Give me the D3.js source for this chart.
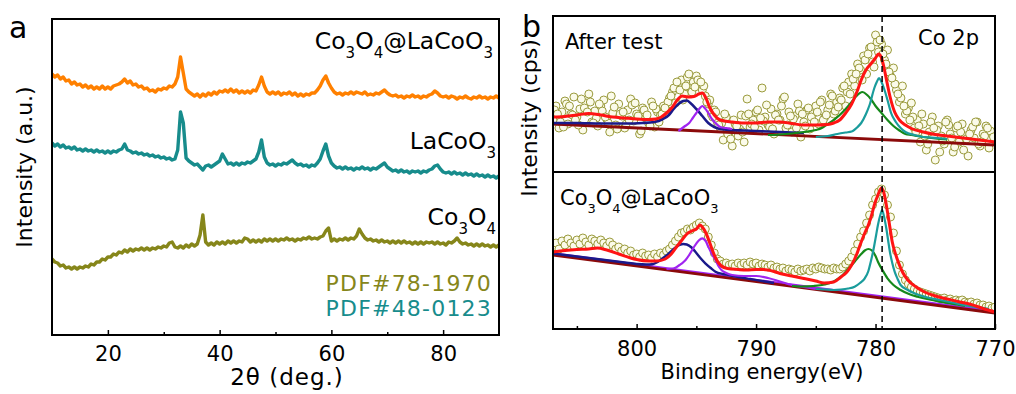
<!DOCTYPE html>
<html><head><meta charset="utf-8">
<script src="https://cdn.jsdelivr.net/npm/d3@7"></script>
<style>body{margin:0;background:#fff}svg{display:block;font-family:"DejaVu Sans",Verdana,sans-serif}</style>
</head><body><svg id="c" width="1016" height="394"></svg>
<script>
// ---------- Panel a : XRD (2θ grid 10..90 step 0.5) ----------
const xrdStart = 10, xrdStep = 0.5;
const xrdTicks = [20, 40, 60, 80];
const xrdMinorTicks = [30, 50, 70];
const xrdCoLa = [261,258,260,256,258,254,255,251,253,250,251,248,250,247,249,246,248,246,249,246,248,246,249,250,251,253,256,252,254,250,251,248,249,246,247,244,245,243,246,245,247,246,249,248,251,258,278,262,246,243,241,239,241,238,241,239,242,240,243,241,244,243,245,243,246,243,245,242,244,242,244,242,245,244,250,258,249,243,241,243,241,243,240,242,241,243,240,242,239,241,239,241,240,242,242,245,249,255,259,252,247,243,241,242,240,242,241,243,241,243,242,241,243,240,241,240,242,241,243,245,242,240,239,240,238,239,237,239,238,240,238,239,237,239,238,240,241,244,242,239,238,239,237,239,238,236,238,237,239,237,236,238,237,239,237,238,236,238,237,239,237];
const xrdLa = [192,189,191,188,190,187,188,186,188,185,186,184,186,184,185,183,185,183,184,182,184,182,184,183,185,186,191,185,184,182,183,181,182,180,181,179,180,178,179,177,178,176,177,175,176,185,223,212,177,174,172,170,171,168,165,169,170,168,170,172,174,181,176,171,172,170,172,170,172,171,173,172,174,176,183,195,178,172,170,171,169,171,170,172,171,173,175,172,170,171,169,170,168,170,169,172,176,184,191,179,172,169,167,168,166,168,166,167,165,167,166,168,166,167,165,167,166,168,170,172,168,166,164,165,163,165,163,164,162,164,163,164,162,164,163,165,166,169,170,166,163,162,163,161,163,161,162,160,162,160,161,159,161,159,160,158,160,158,159,157,159];
const xrdCo = [76,73,72,69,70,67,68,66,68,66,68,67,69,68,71,70,73,73,76,75,78,78,81,80,83,82,85,83,86,84,86,85,87,85,87,85,87,86,88,87,89,88,92,93,88,87,89,87,90,88,91,89,91,100,120,93,90,92,90,93,91,93,91,94,92,94,92,94,93,97,96,93,95,93,95,93,96,94,96,94,96,94,96,95,97,95,96,94,96,95,97,96,98,96,97,96,98,99,104,107,94,96,94,96,95,97,95,97,96,99,106,101,97,95,96,94,95,93,95,93,94,92,94,92,94,92,94,92,93,91,93,91,93,91,93,92,93,91,93,91,92,90,93,92,94,97,93,91,92,90,91,89,91,89,91,89,90,88,90,88,90];

// ---------- Panel b : XPS Co 2p ----------
const xpsTicks = [800, 790, 780, 770];
const xpsMinorTicks = [805, 795, 785, 775];
const xpsRefLine = 779.45;
// measured points (value lists on regular energy grids, see drawPanel calls)
const topPts = [52,66,44,60,71,48,58,75,55,63,42,69,78,50,61,46,66,72,53,40,59,47,68,56,44,62,73,51,58,38,64,54,49,70,45,60,57,66,62,74,80,69,88,92,78,95,84,90,96,88,82,76,68,58,62,50,44,32,55,40,26,48,36,57,30,73,45,52,60,42,84,55,47,63,38,58,52,73,44,60,40,56,68,35,50,62,43,58,66,48,72,55,62,78,58,70,74,84,66,90,98,86,108,102,116,98,124,110,137,120,128,112,122,96,104,82,70,86,58,64,69,44,52,30,48,22,40,55,12,46,36,28,52,38,20,44,30,48,36,16,42,34,50,26,38,46,24,40,32];
const topPts2 = [62,50,68,57,47,64,70,54,61,49,65,58,48,67,56,62,46,63,58,70,84,82,86,80,92,86,72,60,49,38,52,43,56,48,62,51,45,57,66,47,53,61,46,55,60,52,67,61,72,80,93,104,112,125,130,118,100,88,74,61,55,46,36,50,42,31,47,25,40,33,45,28,36,41];
const topPts3 = [58,45,66,52,73,60,49,68,55,76,43,60,52,69,41,57,66,50,64,76,90,72,98,85,90,70,55,47,58,33,46,40,58,45,54,67,43,52,75,56,44,58,64,50,70,57,76,65,86,78,98,92,118,105,132,108,94,78,66,52,40,58,28,44,20,50,34,46,22,38,50,30,44,35];
const botPts = [82,86,80,88,84,90,86,83,89,85,91,87,84,90,88,85,89,86,83,87,84,80,82,78,80,76,78,74,75,72,76,73,74,71,75,72,76,74,78,80,84,88,92,96,97,100,99,102,104,106,103,100,92,84,76,70,68,65,66,64,65,63,66,64,66,64,67,65,66,63,65,64,62,64,61,62,60,61,58,60,59,57,60,58,59,60,58,61,60,62,61,60,60,59,61,60,60,62,65,68,72,78,85,92,98,106,114,124,130,137,140,134,124,112,96,78,64,55,49,45,42,40,38,37,36,35,34,33,32,31,30,31,29,30,28,29,28,29,27,26,27,25,26,24,24,22,23,21,22];

const topBase = [[807,48],[770,27]];
const topEnv = [[807,55],[806,55.5],[805,57],[804,58.5],[803,57],[802,55],[801,54],[800,53],[799,52.5],[798.4,53],[798,54.5],[797.5,59],[797,65],[796.6,72],[796.2,76],[795.7,75],[795.2,75.5],[794.8,78],[794.5,79],[794.2,74],[793.9,65],[793.5,57],[793,52],[792,50],[791,49],[790,49],[789,50],[788,50],[787,48.5],[786,47],[785,47],[784,47.5],[783.5,49],[783,52],[782.5,59],[782,68],[781.5,82],[781.2,92],[780.8,102],[780.4,108],[780,114],[779.75,118],[779.5,114],[779.3,105],[779.1,93],[778.8,76],[778.4,60],[778,52],[777.5,47],[777,43.5],[776,40],[775,37.5],[774,36],[773,34.5],[772,33],[771,31.5],[770,30]];
const topNavy = [[807,49],[805,49],[803,48.5],[801,48.5],[799.5,49],[798.5,50],[797.8,53],[797.3,57],[796.9,63],[796.5,68],[796.1,71],[795.8,71.5],[795.5,69],[795,63],[794.5,56],[794,49],[793.5,45],[793,43],[792,42],[791,41.5],[790,41],[789,40.5],[788,40],[787,39.5],[786,39]];
const topViolet = [[796.5,41],[796,45.5],[795.6,49],[795.3,54],[795,59],[794.7,64],[794.5,66],[794.3,64],[794,59],[793.7,53],[793.4,49],[793,45],[792.5,44],[792,43]];
const topGreen = [[789,37],[788,37.5],[787,38.5],[786,40],[785,42],[784.5,44],[784,48],[783.5,52],[783,57],[782.5,63],[782,70],[781.6,76],[781.1,80],[780.7,77],[780.4,73],[780,66],[779.5,59],[779,52],[778.5,46],[778,41.5],[777.5,38],[777,37],[776,35],[775,33.5],[774,32.5]];
const topTeal = [[785,35],[784,36],[783.2,38],[782.5,39.5],[782,40.5],[781.5,45],[781.2,49],[780.8,58],[780.5,67],[780.1,84],[779.9,90],[779.7,94],[779.5,90],[779.25,82],[779,72],[778.7,59],[778.3,50],[777.9,44],[777.5,40],[776.75,37],[776,35],[774.8,34],[774,33]];

const botBaseViolet = [[807,75.5],[770,17.5]];
const botBase = [[807,74],[770,16]];
const botEnv = [[807,77],[806,78.5],[805,79.5],[804,80],[803.3,81],[802.5,79],[801.5,75],[800.5,71],[800,69.5],[799,68],[798.3,68],[797.6,70],[797.1,75],[796.6,83],[796.2,89],[795.8,95],[795.3,98.5],[795,100],[794.7,104],[794.5,102],[794.2,96],[793.9,87],[793.6,77],[793.3,69],[792.9,63],[792.4,60.5],[791.5,59.5],[790.8,59],[790,59.5],[789.4,59.5],[788.5,57.5],[788,55.5],[787,53],[786,50.5],[785,48],[784.3,46],[783.5,47],[782.9,52],[782.4,57],[782,64],[781.6,74],[781.2,87],[780.9,96],[780.6,104],[780.3,115],[780.1,124],[779.8,134],[779.5,141],[779.3,136],[779,117],[778.8,102],[778.6,87],[778.3,74],[778.1,67],[777.7,56],[777.3,49],[776.6,42],[775.9,37],[775,33],[774,30],[773.1,27.5],[772,24.5],[771,20.5],[770,17]];
const botNavy = [[807,75.5],[805,72.5],[803,69.5],[801,66.5],[800,65],[799.2,64.5],[798.7,64.8],[798.4,66],[797.9,70],[797.3,75.7],[796.8,81],[796.4,84],[796.1,85],[795.8,84.5],[795.4,81.5],[795.1,77.5],[794.7,71.5],[794.25,65.7],[793.8,61],[793.4,57.3],[792.8,55],[792.3,54],[791.5,52],[790.5,50],[789.5,48],[788.5,46]];
const botViolet = [[797.5,60],[797,60.5],[796.75,61.3],[796.4,64],[796.2,65.7],[795.9,69],[795.6,74],[795.2,82],[794.8,88.5],[794.5,90.7],[794.2,87.5],[794,82.3],[793.7,75],[793.4,69],[793.1,62],[792.9,59],[792.5,56],[792,54],[791,53],[790,53],[789,51],[788,47.5],[787,44],[786,42],[785,40]];
const botGreen = [[787,43],[786.2,42.5],[785.2,43],[784.25,44.5],[783.5,47.5],[782.9,52.3],[782.3,60],[781.75,67.3],[781.2,75],[780.9,78.5],[780.6,80],[780.3,78.5],[780,73],[779.8,67.3],[779.4,58.5],[779,50.7],[778.5,44],[777.9,39],[777.2,35],[776.5,32.3],[775.5,29.5],[774.6,27.3],[773.5,25],[772.5,23]];
const botTeal = [[785,40],[784.25,39.5],[783.5,39],[782.9,39.5],[782.3,40.5],[781.75,42.3],[781.3,46],[780.9,50.7],[780.6,58],[780.4,67.3],[780.25,75],[780.1,84],[779.95,94],[779.8,104],[779.6,114],[779.45,119],[779.3,113],[779.1,100.7],[778.95,89],[778.8,77.3],[778.6,66],[778.4,57.3],[778.15,50],[777.9,44],[777.3,39],[776.75,35.7],[775.8,32],[774.6,29],[773.2,25.5],[771.8,22.3],[770.5,20]];

// ---------- colours ----------
const C = {orange:"#ff8000", teal:"#178c8c", olive:"#86861a", red:"#ff1414", navy:"#1a1a8a",
  violet:"#a024f0", green:"#15891a", cyan:"#1a9c9c", base:"#8b0a0a", ptStroke:"#9a9a3c", ptFill:"#fbfbea"};

const svg = d3.select("#c");
const FS = 21;

function richText(g, x, y, parts, anchor, size, color, subDy) {
  const t = g.append("text").attr("x", x).attr("y", y).attr("text-anchor", anchor)
    .attr("fill", color || "#000").attr("font-size", size);
  let off = 0;
  parts.forEach(([s, sub]) => {
    const d = sub ? subDy : 0;
    t.append("tspan").attr("font-size", sub ? Math.round(size * 0.64) : size)
      .attr("dy", d - off).text(s);
    off = d;
  });
  return t;
}

// ================= Panel a =================
const ax = d3.scaleLinear([10, 90], [52, 499]);
const ay = d3.scaleLinear([0, 316], [335, 19]);
const ga = svg.append("g");
ga.append("defs").append("clipPath").attr("id", "clipA").append("rect")
  .attr("x", 52).attr("y", 19).attr("width", 447).attr("height", 316);
const angles = d3.range(xrdCoLa.length).map(i => xrdStart + i * xrdStep);
const lineA = d3.line().x((d, i) => ax(angles[i])).y(d => ay(d));
[[xrdCo, C.olive], [xrdLa, C.teal], [xrdCoLa, C.orange]].forEach(([arr, col]) => {
  ga.append("path").attr("clip-path", "url(#clipA)").attr("d", lineA(arr))
    .attr("fill", "none").attr("stroke", col).attr("stroke-width", 3.4).attr("stroke-linejoin", "round");
});
ga.append("rect").attr("x", 52).attr("y", 19).attr("width", 447).attr("height", 316)
  .attr("fill", "none").attr("stroke", "#000").attr("stroke-width", 2);
const axA = ga.append("g").attr("transform", "translate(0,335)")
  .call(d3.axisBottom(ax).tickValues(xrdTicks).tickSizeInner(-5).tickSizeOuter(0).tickPadding(11));
axA.select(".domain").remove();
axA.selectAll("line").attr("stroke-width", 1.5);
axA.selectAll("text").attr("font-size", FS).attr("font-family", "DejaVu Sans");
const axAm = ga.append("g").attr("transform", "translate(0,335)")
  .call(d3.axisBottom(ax).tickValues(xrdMinorTicks).tickSizeInner(-3).tickSizeOuter(0).tickFormat(""));
axAm.select(".domain").remove();
axAm.selectAll("line").attr("stroke-width", 1.5);

ga.append("text").attr("x", 287).attr("y", 385).attr("text-anchor", "middle").attr("font-size", 23)
  .attr("letter-spacing", 1).text("2θ (deg.)");
ga.append("text").attr("transform", "translate(32,167) rotate(-90)").attr("text-anchor", "middle")
  .attr("font-size", 22).text("Intensity (a.u.)");
ga.append("text").attr("x", 9).attr("y", 38).attr("font-size", 30).text("a");
richText(ga, 493, 49, [["Co",0],["3",1],["O",0],["4",1],["@LaCoO",0],["3",1]], "end", 23.5, "#000", 9);
richText(ga, 496, 149, [["LaCoO",0],["3",1]], "end", 23.5, "#000", 9);
richText(ga, 496, 225, [["Co",0],["3",1],["O",0],["4",1]], "end", 23.5, "#000", 9);
ga.append("text").attr("x", 492).attr("y", 291).attr("text-anchor", "end").attr("font-size", 22)
  .attr("letter-spacing", 1.2).attr("fill", C.olive).text("PDF#78-1970");
ga.append("text").attr("x", 492).attr("y", 316).attr("text-anchor", "end").attr("font-size", 22)
  .attr("letter-spacing", 1.2).attr("fill", C.teal).text("PDF#48-0123");

// ================= Panel b =================
const bx = d3.scaleLinear([807, 770], [553, 995]);
const byT = d3.scaleLinear([0, 156], [172, 16]);
const byB = d3.scaleLinear([0, 157], [329, 172]);
const gb = svg.append("g");
const defs = gb.append("defs");
defs.append("clipPath").attr("id", "clipT").append("rect").attr("x", 553).attr("y", 16).attr("width", 442).attr("height", 156);
defs.append("clipPath").attr("id", "clipB").append("rect").attr("x", 553).attr("y", 172).attr("width", 442).attr("height", 157);

function drawPanel(yS, clip, ptsSets, base, extraBase, comps, env) {
  const g = gb.append("g").attr("clip-path", `url(#${clip})`);
  ptsSets.forEach(([vals, e0, step]) => {
    g.selectAll(null).data(vals).join("circle")
      .attr("cx", (d, i) => bx(e0 - i * step)).attr("cy", d => yS(d)).attr("r", 4)
      .attr("fill", C.ptFill).attr("stroke", C.ptStroke).attr("stroke-width", 1);
  });
  const ln = d3.line().x(d => bx(d[0])).y(d => yS(d[1])).curve(d3.curveMonotoneX);
  if (extraBase) g.append("path").attr("d", ln(extraBase)).attr("fill", "none").attr("stroke", C.violet).attr("stroke-width", 2.6);
  g.append("path").attr("d", ln(base)).attr("fill", "none").attr("stroke", C.base).attr("stroke-width", 2.8);
  comps.forEach(([arr, col, w]) => g.append("path").attr("d", ln(arr)).attr("fill", "none")
    .attr("stroke", col).attr("stroke-width", w).attr("stroke-linejoin", "round"));
  g.append("path").attr("d", ln(env)).attr("fill", "none").attr("stroke", C.red).attr("stroke-width", 3).attr("stroke-linejoin", "round");
}
drawPanel(byT, "clipT", [[topPts, 807, 0.25], [topPts2, 806.875, 0.5], [topPts3, 806.625, 0.5]], topBase, null,
  [[topNavy, C.navy, 2.6], [topViolet, C.violet, 2.2], [topGreen, C.green, 2.2], [topTeal, C.cyan, 2.2]], topEnv);
drawPanel(byB, "clipB", [[botPts, 807, 0.25]], botBase, botBaseViolet,
  [[botNavy, C.navy, 2.4], [botViolet, C.violet, 2.2], [botGreen, C.green, 2.2], [botTeal, C.cyan, 2.2]], botEnv);

gb.append("line").attr("x1", bx(xpsRefLine)).attr("x2", bx(xpsRefLine)).attr("y1", 16).attr("y2", 329)
  .attr("stroke", "#000").attr("stroke-width", 1.5).attr("stroke-dasharray", "6,4");
gb.append("rect").attr("x", 553).attr("y", 16).attr("width", 442).attr("height", 313)
  .attr("fill", "none").attr("stroke", "#000").attr("stroke-width", 2);
gb.append("line").attr("x1", 553).attr("x2", 995).attr("y1", 172).attr("y2", 172).attr("stroke", "#000").attr("stroke-width", 2);

const axB = gb.append("g").attr("transform", "translate(0,329)")
  .call(d3.axisBottom(bx).tickValues(xpsTicks).tickSizeInner(-5).tickSizeOuter(0).tickPadding(12));
axB.select(".domain").remove();
axB.selectAll("line").attr("stroke-width", 1.5);
axB.selectAll("text").attr("font-size", FS).attr("font-family", "DejaVu Sans");
const axBm = gb.append("g").attr("transform", "translate(0,329)")
  .call(d3.axisBottom(bx).tickValues(xpsMinorTicks).tickSizeInner(-3).tickSizeOuter(0).tickFormat(""));
axBm.select(".domain").remove();
axBm.selectAll("line").attr("stroke-width", 1.5);

gb.append("text").attr("x", 762).attr("y", 379).attr("text-anchor", "middle").attr("font-size", 21).text("Binding energy(eV)");
gb.append("text").attr("transform", "translate(537,118) rotate(-90)").attr("text-anchor", "middle")
  .attr("font-size", 22).text("Intensity (cps)");
gb.append("text").attr("x", 522).attr("y", 37).attr("font-size", 30).text("b");
gb.append("text").attr("x", 565).attr("y", 49).attr("font-size", 21).text("After test");
gb.append("text").attr("x", 979).attr("y", 45).attr("text-anchor", "end").attr("font-size", 21).text("Co 2p");
richText(gb, 560, 205, [["Co",0],["3",1],["O",0],["4",1],["@LaCoO",0],["3",1]], "start", 21, "#000", 8);
</script></body></html>
